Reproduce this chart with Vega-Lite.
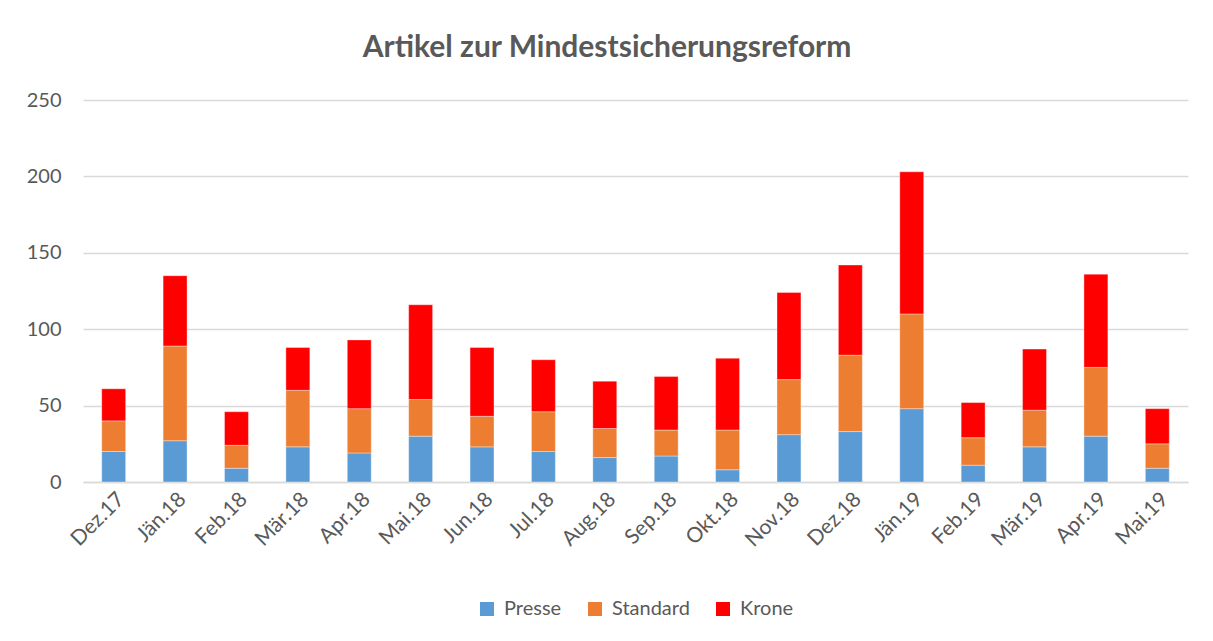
{
  "$schema": "https://vega.github.io/schema/vega-lite/v6.json",
  "width": 1213,
  "height": 641,
  "autosize": {"type": "fit", "contains": "padding"},
  "padding": {"left": 26, "right": 25, "top": 33, "bottom": 22},
  "background": "white",
  "title": {
    "text": "Artikel zur Mindestsicherungsreform",
    "font": "Lato",
    "fontSize": 30,
    "fontWeight": "bold",
    "color": "#595959",
    "anchor": "middle",
    "frame": "bounds",
    "offset": 27
  },
  "data": {
    "values": [
      {"Monat": "Dez.17", "Presse": 20, "Standard": 20, "Krone": 21},
      {"Monat": "Jän.18", "Presse": 27, "Standard": 62, "Krone": 46},
      {"Monat": "Feb.18", "Presse": 9, "Standard": 15, "Krone": 22},
      {"Monat": "Mär.18", "Presse": 23, "Standard": 37, "Krone": 28},
      {"Monat": "Apr.18", "Presse": 19, "Standard": 29, "Krone": 45},
      {"Monat": "Mai.18", "Presse": 30, "Standard": 24, "Krone": 62},
      {"Monat": "Jun.18", "Presse": 23, "Standard": 20, "Krone": 45},
      {"Monat": "Jul.18", "Presse": 20, "Standard": 26, "Krone": 34},
      {"Monat": "Aug.18", "Presse": 16, "Standard": 19, "Krone": 31},
      {"Monat": "Sep.18", "Presse": 17, "Standard": 17, "Krone": 35},
      {"Monat": "Okt.18", "Presse": 8, "Standard": 26, "Krone": 47},
      {"Monat": "Nov.18", "Presse": 31, "Standard": 36, "Krone": 57},
      {"Monat": "Dez.18", "Presse": 33, "Standard": 50, "Krone": 59},
      {"Monat": "Jän.19", "Presse": 48, "Standard": 62, "Krone": 93},
      {"Monat": "Feb.19", "Presse": 11, "Standard": 18, "Krone": 23},
      {"Monat": "Mär.19", "Presse": 23, "Standard": 24, "Krone": 40},
      {"Monat": "Apr.19", "Presse": 30, "Standard": 45, "Krone": 61},
      {"Monat": "Mai.19", "Presse": 9, "Standard": 16, "Krone": 23}
    ]
  },
  "transform": [
    {"fold": ["Presse", "Standard", "Krone"], "as": ["Zeitung", "Artikel"]}
  ],
  "mark": {"type": "bar", "stroke": "white", "strokeWidth": 0.6, "strokeOpacity": 0.6},
  "encoding": {
    "x": {
      "field": "Monat",
      "type": "nominal",
      "sort": null,
      "scale": {"paddingInner": 0.61, "paddingOuter": 0.305},
      "axis": {
        "title": null,
        "labelAngle": -45,
        "labelFont": "Lato",
        "labelFontSize": 21,
        "labelColor": "#595959",
        "labelPadding": 6,
        "ticks": false,
        "domainColor": "#d9d9d9",
        "domainWidth": 1.5
      }
    },
    "y": {
      "field": "Artikel",
      "type": "quantitative",
      "stack": "zero",
      "scale": {"domain": [0, 250]},
      "axis": {
        "title": null,
        "values": [0, 50, 100, 150, 200, 250],
        "labelFont": "Lato",
        "labelFontSize": 20,
        "labelColor": "#595959",
        "labelPadding": 22,
        "ticks": false,
        "domain": false,
        "gridColor": "#d9d9d9",
        "gridWidth": 1.5
      }
    },
    "color": {
      "field": "Zeitung",
      "type": "nominal",
      "sort": ["Presse", "Standard", "Krone"],
      "scale": {"domain": ["Presse", "Standard", "Krone"], "range": ["#5B9BD5", "#ED7D31", "#FF0000"]},
      "legend": {
        "title": null,
        "orient": "bottom",
        "direction": "horizontal",
        "symbolType": "square",
        "symbolSize": 196,
        "symbolStrokeWidth": 0,
        "labelFont": "Lato",
        "labelFontSize": 20,
        "labelColor": "#595959",
        "labelOffset": 7,
        "columnPadding": 23,
        "offset": 48
      }
    },
    "order": {"field": "ord", "type": "quantitative"}
  },
  "config": {
    "view": {"stroke": null},
    "legend": {"layout": {"bottom": {"anchor": "middle"}}}
  }
}
